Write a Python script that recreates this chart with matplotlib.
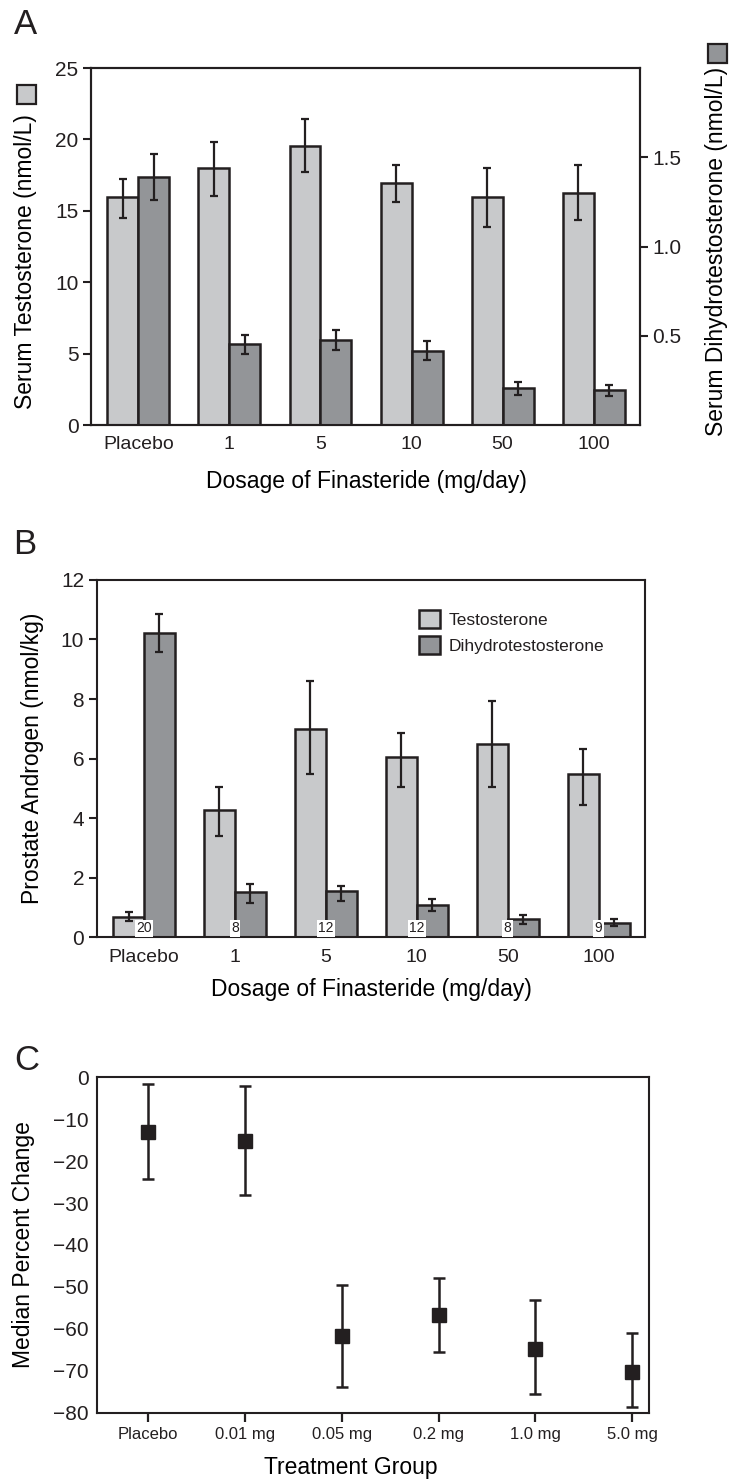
import matplotlib
matplotlib.use("Agg")
import matplotlib.pyplot as plt
import numpy as np
from matplotlib.patches import Patch, Rectangle

LIGHT = "#C8C9CB"
DARK = "#939598"
INK = "#231F20"

plt.rcParams.update({
    "font.family": ["Liberation Sans", "DejaVu Sans"],
    "font.size": 15,
    "text.color": INK,
    "axes.edgecolor": INK,
    "axes.linewidth": 1.5,
    "xtick.color": INK,
    "ytick.color": INK,
})

# --- panel A: serum hormones -------------------------------------------
doses = ["Placebo", "1", "5", "10", "50", "100"]
serum_t = [16.0, 18.0, 19.55, 16.95, 15.95, 16.25]
serum_t_lo = [14.5, 16.05, 17.75, 15.6, 13.9, 14.35]
serum_t_hi = [17.25, 19.85, 21.4, 18.2, 18.0, 18.2]
serum_dht = [1.39, 0.455, 0.475, 0.415, 0.207, 0.194]
serum_dht_lo = [1.26, 0.40, 0.42, 0.366, 0.171, 0.164]
serum_dht_hi = [1.52, 0.505, 0.53, 0.47, 0.239, 0.224]

# --- panel B: prostate androgens ---------------------------------------
prostate_t = [0.70, 4.28, 6.99, 6.05, 6.49, 5.48]
prostate_t_lo = [0.55, 3.41, 5.48, 5.04, 5.04, 4.45]
prostate_t_hi = [0.85, 5.06, 8.62, 6.87, 7.95, 6.34]
prostate_dht = [10.23, 1.52, 1.55, 1.08, 0.62, 0.50]
prostate_dht_lo = [9.57, 1.16, 1.23, 0.90, 0.44, 0.40]
prostate_dht_hi = [10.86, 1.79, 1.73, 1.28, 0.755, 0.63]
n_men = [20, 8, 12, 12, 8, 9]

# --- panel C: median percent change ------------------------------------
groups = ["Placebo", "0.01 mg", "0.05 mg", "0.2 mg", "1.0 mg", "5.0 mg"]
median_change = [-13.0, -15.1, -61.7, -56.7, -64.7, -70.3]
change_lo = [-24.3, -28.1, -73.8, -65.6, -75.6, -78.6]
change_hi = [-1.6, -2.1, -49.6, -47.8, -53.1, -61.1]


def _err(v, lo, hi):
    v, lo, hi = map(np.asarray, (v, lo, hi))
    return [v - lo, hi - v]


BW = 0.34
BAR = dict(edgecolor=INK, linewidth=1.8, zorder=2)
EB = dict(fmt="none", ecolor=INK, elinewidth=1.6, capsize=3.2, capthick=1.6, zorder=3)

fig = plt.figure(figsize=(7.4, 14.8), dpi=100)

# ======================= A =======================
x = np.arange(len(doses))
ax = fig.add_axes([0.123, 0.7128, 0.742, 0.2412])
ax2 = ax.twinx()
ax.bar(x - BW / 2, serum_t, BW, color=LIGHT, **BAR)
ax.errorbar(x - BW / 2, serum_t, yerr=_err(serum_t, serum_t_lo, serum_t_hi), **EB)
ax2.bar(x + BW / 2, serum_dht, BW, color=DARK, **BAR)
ax2.errorbar(x + BW / 2, serum_dht, yerr=_err(serum_dht, serum_dht_lo, serum_dht_hi), **EB)
ax.set_xlim(-0.52, 5.51)
ax.set_ylim(0, 25)
ax.set_yticks([0, 5, 10, 15, 20, 25])
ax2.set_ylim(0, 2.0)
ax2.set_yticks([0.5, 1.0, 1.5])
ax2.set_yticklabels(["0.5", "1.0", "1.5"])
ax.set_xticks(x)
ax.set_xticklabels(doses, fontsize=14)
ax.tick_params(axis="x", length=0, pad=8)
ax.tick_params(axis="y", length=6, width=1.5, pad=3)
ax2.tick_params(axis="y", length=6, width=1.5, pad=3)
ax.set_xlabel("Dosage of Finasteride (mg/day)", fontsize=16.5, va="center")
ax.xaxis.set_label_coords(0.501, -0.157)
ax.set_ylabel("Serum Testosterone (nmol/L)", fontsize=16.5, va="center")
ax.yaxis.set_label_coords(-0.12, 0.457)
ax2.set_ylabel("Serum Dihydrotestosterone (nmol/L)", fontsize=16.5, va="center")
ax2.yaxis.set_label_coords(1.140, 0.485)
fig.add_artist(Rectangle((17 / 740, 1 - 104 / 1480), 19 / 740, 19 / 1480,
                         transform=fig.transFigure, facecolor=LIGHT,
                         edgecolor=INK, linewidth=1.6))
fig.add_artist(Rectangle((708 / 740, 1 - 63 / 1480), 19 / 740, 19 / 1480,
                         transform=fig.transFigure, facecolor=DARK,
                         edgecolor=INK, linewidth=1.6))
fig.text(26 / 740, 1 - 24 / 1480, "A", fontsize=25, ha="center", va="center")

# ======================= B =======================
bx = fig.add_axes([0.1307, 0.3666, 0.741, 0.2416])
bx.bar(x - BW / 2, prostate_t, BW, color=LIGHT, **BAR)
bx.errorbar(x - BW / 2, prostate_t, yerr=_err(prostate_t, prostate_t_lo, prostate_t_hi), **EB)
bx.bar(x + BW / 2, prostate_dht, BW, color=DARK, **BAR)
bx.errorbar(x + BW / 2, prostate_dht, yerr=_err(prostate_dht, prostate_dht_lo, prostate_dht_hi), **EB)
for xi, n in zip(x, n_men):
    bx.text(xi, 0.3, str(n), fontsize=10, ha="center", va="center", zorder=4,
            bbox=dict(facecolor="white", edgecolor="none", pad=1.0))
bx.set_xlim(-0.52, 5.51)
bx.set_ylim(0, 12)
bx.set_yticks(range(0, 13, 2))
bx.set_xticks(x)
bx.set_xticklabels(doses, fontsize=14)
bx.tick_params(axis="x", length=0, pad=8)
bx.tick_params(axis="y", length=6, width=1.5, pad=3)
bx.set_xlabel("Dosage of Finasteride (mg/day)", fontsize=16.5, va="center")
bx.xaxis.set_label_coords(0.501, -0.147)
bx.set_ylabel("Prostate Androgen (nmol/kg)", fontsize=16.5, va="center")
bx.yaxis.set_label_coords(-0.118, 0.5)
handles = [Patch(facecolor=LIGHT, edgecolor=INK, linewidth=1.8, label="Testosterone"),
           Patch(facecolor=DARK, edgecolor=INK, linewidth=1.8, label="Dihydrotestosterone")]
bx.legend(handles=handles, loc="upper left", bbox_to_anchor=(0.588, 0.915),
          frameon=False, borderaxespad=0, borderpad=0, handlelength=1.2,
          handleheight=1.2, handletextpad=0.5, labelspacing=0.45,
          prop=dict(size=12.5))
fig.text(25 / 740, 1 - 545 / 1480, "B", fontsize=25, ha="center", va="center")

# ======================= C =======================
cx = fig.add_axes([0.1307, 0.0455, 0.7468, 0.2266])
xc = np.arange(len(groups))
cx.errorbar(xc, median_change, yerr=_err(median_change, change_lo, change_hi),
            fmt="s", color=INK, markersize=10.5, ecolor=INK, elinewidth=1.8,
            capsize=4.5, capthick=1.8, zorder=3)
cx.set_xlim(-0.526, 5.175)
cx.set_ylim(-80, 0)
cx.set_yticks(range(-80, 1, 10))
cx.set_xticks(xc)
cx.set_xticklabels(groups, fontsize=12)
cx.tick_params(axis="x", length=6.5, width=1.6, pad=4)
cx.tick_params(axis="y", length=0, pad=6)
cx.set_xlabel("Treatment Group", fontsize=16.5, va="center")
cx.xaxis.set_label_coords(0.46, -0.165)
cx.set_ylabel("Median Percent Change", fontsize=16.5, va="center")
cx.yaxis.set_label_coords(-0.133, 0.5)
fig.text(27 / 740, 1 - 1061 / 1480, "C", fontsize=25, ha="center", va="center")

fig.savefig("out.png", dpi=100, facecolor="white")
